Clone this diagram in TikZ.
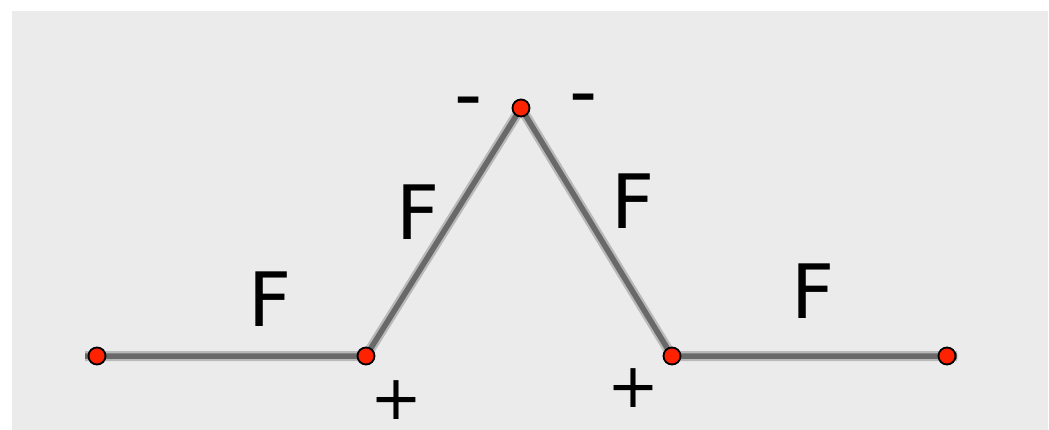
\documentclass[tikz,border=0pt]{standalone}
\usepackage{fontspec}
\setmainfont{DejaVu Sans}
\usetikzlibrary{backgrounds}
\definecolor{bggray}{RGB}{235,235,235}
\definecolor{dotred}{RGB}{255,34,0}
\definecolor{linecore}{RGB}{105,105,105}
\definecolor{lineglow}{RGB}{185,185,185}
\tikzset{
  dot/.style={circle, fill=dotred, draw=black, line width=1.8pt, minimum size=17pt, inner sep=0pt},
  glow/.style={draw=lineglow, line width=10pt},
  core/.style={draw=linecore, line width=5.5pt},
  flabel/.style={inner sep=0pt, font=\fontsize{75}{80}\selectfont},
  plabel/.style={inner sep=0pt, font=\fontsize{62}{66}\selectfont},
  mlabel/.style={inner sep=0pt, font=\fontsize{78}{82}\selectfont}
}
\begin{document}
\begin{tikzpicture}[x=1pt,y=-1pt]
\useasboundingbox (0,0) rectangle (1049,430);
\node[dot] (p1) at (97,356) {};
\node[dot] (p2) at (366,356) {};
\node[dot] (p3) at (521,108) {};
\node[dot] (p4) at (672,356) {};
\node[dot] (p5) at (947,356) {};
\begin{scope}[on background layer]
  \fill[bggray] (12,11) rectangle (1048,430);
  \path[glow] ([xshift=-12pt]p1.center) -- (p2.center) -- (p3.center) -- (p4.center) -- ([xshift=10pt]p5.center);
  \path[core] ([xshift=-12pt]p1.center) -- (p2.center) -- (p3.center) -- (p4.center) -- ([xshift=10pt]p5.center);
\end{scope}
\node[flabel] (f1) at (270.5,299.5) {F};
\node[flabel] (f2) at (418.5,212.5) {F};
\node[flabel] (f3) at (633.5,201.5) {F};
\node[flabel] (f4) at (813.5,291.5) {F};
\node[mlabel] (m1) at (469,109) {-};
\node[mlabel] (m2) at (584,106) {-};
\node[plabel] (s1) at (396.5,400.5) {+};
\node[plabel] (s2) at (633.5,388.5) {+};
\end{tikzpicture}
\end{document}
